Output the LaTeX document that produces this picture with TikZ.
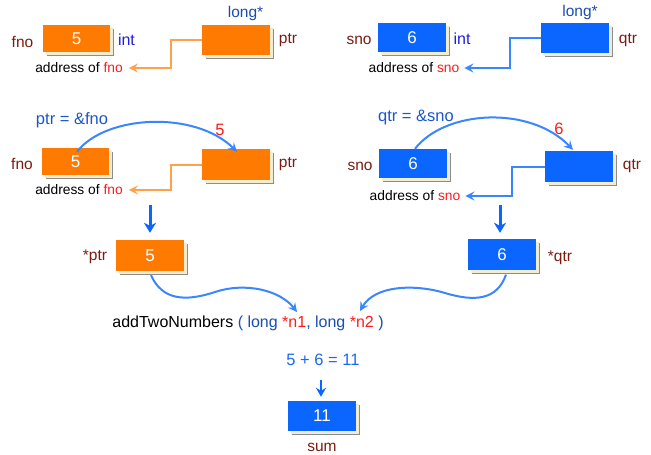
\documentclass[tikz,border=0pt]{standalone}
\usepackage{fontspec}
\setmainfont{Liberation Sans}
\usetikzlibrary{arrows.meta,shadows}
\definecolor{orangeC}{HTML}{FF7A00}
\definecolor{blueC}{HTML}{0A66FF}
\definecolor{olineC}{HTML}{FFA04D}
\definecolor{blineC}{HTML}{3A86FF}
\definecolor{maroonC}{HTML}{7B1B12}
\definecolor{intC}{HTML}{1F1FD8}
\definecolor{longC}{HTML}{1A4DB0}
\definecolor{asgC}{HTML}{1C56C8}
\definecolor{redC}{HTML}{FF1A1A}
\definecolor{eqC}{HTML}{1A6AF0}
\definecolor{creamC}{HTML}{F3EDD0}
\tikzset{
  lbl/.style={text=maroonC, font=\fontsize{15.5}{18}\selectfont, inner sep=0pt},
  typ/.style={text=intC, font=\fontsize{16}{18}\selectfont, inner sep=0pt},
  lng/.style={text=longC, font=\fontsize{15.5}{18}\selectfont, inner sep=0pt},
  addr/.style={text=black, font=\fontsize{13.8}{16}\selectfont, inner sep=0pt},
  asg/.style={text=asgC, font=\fontsize{16.5}{19}\selectfont, inner sep=0pt},
  redv/.style={text=redC, font=\fontsize{16.5}{19}\selectfont, inner sep=0pt},
  box/.style={minimum width=68pt, minimum height=29pt, inner sep=0pt, text=white,
    font=\fontsize{17}{19}\selectfont,
    general shadow={fill=black!45, shadow xshift=4pt, shadow yshift=-4pt},
    general shadow={fill=creamC, shadow xshift=2.5pt, shadow yshift=-2.5pt}},
  obox/.style={box, fill=orangeC},
  bbox/.style={box, fill=blueC},
  oconn/.style={draw=olineC, line width=2pt, -{Stealth[length=9pt,width=9pt,inset=3.5pt]}},
  bconn/.style={draw=blineC, line width=2pt, -{Stealth[length=9pt,width=9pt,inset=3.5pt]}},
  darr/.style={draw=blueC, line width=3pt, -{Stealth[length=10pt,width=12pt,inset=3pt]}},
  sarr/.style={draw=blueC, line width=2pt, -{Stealth[length=9pt,width=10pt,inset=3pt]}},
}
\begin{document}
\begin{tikzpicture}[x=1pt,y=-1pt]
\fill[white] (0,0) rectangle (651,455);
\useasboundingbox (0,0) rectangle (651,455);

% ---------- Row 1 left ----------
\node[obox, minimum width=67pt, minimum height=27pt] (fnoA) at (76.5,38.5) {5};
\node[obox, minimum height=30pt] (ptrA) at (236,40) {};
\node[lbl] (fnoAl) at (22.5,42) {fno};
\node[typ] (intA) at (126.5,40) {int};
\node[lng] (longA) at (245.5,13) {long*};
\node[lbl] (ptrAl) at (288,40) {ptr};
\node[addr] (afA) at (79,68) {address of \textcolor{redC}{fno}};
\draw[oconn] (ptrA.west) -- ++(-31,0) |- ([xshift=6pt]afA.east);

% ---------- Row 1 right ----------
\node[bbox] (snoA) at (412,37.5) {6};
\node[bbox, minimum height=30pt] (qtrA) at (575,38) {};
\node[lbl] (snoAl) at (359,40) {sno};
\node[typ] (intB) at (462,39) {int};
\node[lng] (longB) at (580,12) {long*};
\node[lbl] (qtrAl) at (628,40) {qtr};
\node[addr] (asA) at (414,68) {address of \textcolor{redC}{sno}};
\draw[bconn] (qtrA.west) -- ++(-31,0) |- ([xshift=5pt]asA.east);

% ---------- Row 2 left ----------
\node[obox, minimum width=67pt, minimum height=27pt] (fnoB) at (75.5,161.5) {5};
\node[obox, minimum height=31pt] (ptrB) at (236,164.5) {};
\node[lbl] (fnoBl) at (22,164) {fno};
\node[lbl] (ptrBl) at (288,164) {ptr};
\node[asg] (asgA) at (72,120) {ptr = \&fno};
\node[redv] (fiveR) at (220,130) {5};
\node[addr] (afB) at (79,190) {address of \textcolor{redC}{fno}};
\draw[oconn] (ptrB.west) -- ++(-31,0) |- ([xshift=6pt]afB.east);
\draw[bconn] ([shift={(1.5,4)}]fnoB.north) .. controls (105,115) and (195,110) .. ([shift={(1,3)}]ptrB.north);

% ---------- Row 2 right ----------
\node[bbox] (snoB) at (413,163.5) {6};
\node[bbox, minimum height=31pt] (qtrB) at (579,166.5) {};
\node[lbl] (snoBl) at (360,166) {sno};
\node[lbl] (qtrBl) at (632,166) {qtr};
\node[asg] (asgB) at (416,118) {qtr = \&sno};
\node[redv] (sixR) at (559,129) {6};
\node[addr] (asB) at (415,196) {address of \textcolor{redC}{sno}};
\draw[bconn] (qtrB.west) -- ++(-33,0) |- ([xshift=5pt]asB.east);
\draw[bconn] ([shift={(2,0)}]snoB.north) .. controls (445,110) and (530,105) .. ([shift={(-6,-1)}]qtrB.north);

% ---------- Row 3 ----------
\node[obox, minimum height=31pt] (pstar) at (150,255.5) {5};
\node[bbox, minimum height=31pt] (qstar) at (502,254.5) {6};
\node[lbl] (pstarl) at (95,257) {*ptr};
\node[lbl] (qstarl) at (560,258) {*qtr};
\draw[darr] ([shift={(0,-35)}]pstar.north) -- ([shift={(0,-7)}]pstar.north);
\draw[darr] ([shift={(-2,-34)}]qstar.north) -- ([shift={(-2,-6)}]qstar.north);

\node[inner sep=0pt, font=\fontsize{16}{19}\selectfont] (call) at (248,323)
  {addTwoNumbers \textcolor{longC}{( long} \textcolor{redC}{*n1}\textcolor{longC}{, long} \textcolor{redC}{*n2} \textcolor{longC}{)}};
\coordinate (nA) at (297,312);
\coordinate (nB) at (360,311);
\draw[bconn] ([shift={(1,4)}]pstar.south) .. controls (162,300) and (185,302) .. (215,292)
  .. controls (245,282) and (280,290) .. (nA);
\draw[bconn] ([shift={(4,4.5)}]qstar.south) .. controls (497,300) and (475,302) .. (445,293)
  .. controls (415,284) and (375,285) .. (nB);

% ---------- Row 4 ----------
\node[inner sep=0pt, text=eqC, font=\fontsize{16.5}{19}\selectfont] (eq) at (323,360) {5 + 6 = 11};
\node[bbox, minimum height=30pt] (sum) at (322,416) {11};
\node[lbl] (suml) at (322,447) {sum};
\draw[sarr] ([shift={(-1,-21)}]sum.north) -- ([shift={(-1,-4)}]sum.north);
\end{tikzpicture}
\end{document}
